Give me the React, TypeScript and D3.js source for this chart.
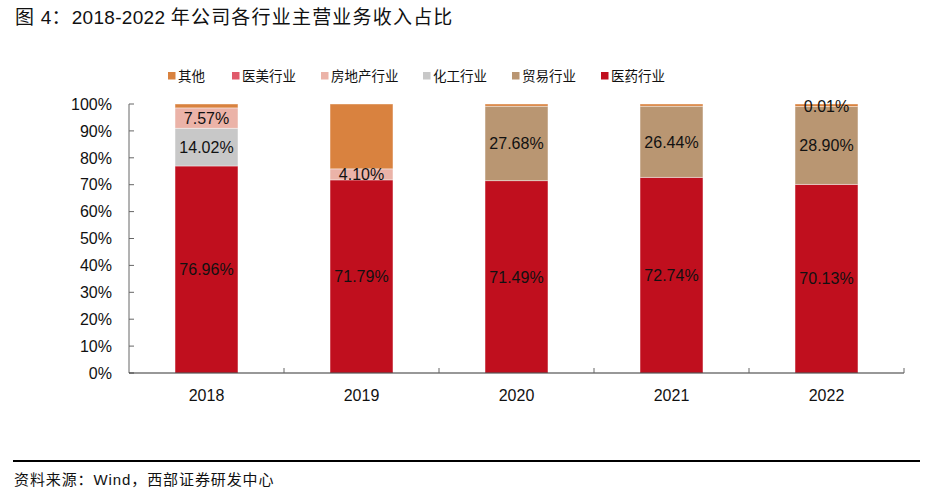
import React from "react";
import * as d3 from "d3";

const years = ["2018", "2019", "2020", "2021", "2022"];
const seriesNames = ["医药行业", "贸易行业", "化工行业", "房地产行业", "医美行业", "其他"];
const seriesColors = ["#C00F1E", "#B99672", "#C8C8C8", "#EBB3A8", "#E05A6B", "#D9823F"];
const pharma = [76.96, 71.79, 71.49, 72.74, 70.13];
const trade = [0, 0, 27.68, 26.44, 28.9];
const chem = [14.02, 0, 0, 0, 0];
const realEstate = [7.57, 4.1, 0, 0, 0];
const aesthetics = [0, 0, 0, 0, 0.01];
const other = [1.45, 24.11, 0.83, 0.82, 0.96];
const labelShown = [
  [true, true, true, true, true],
  [false, false, true, true, true],
  [true, false, false, false, false],
  [true, true, false, false, false],
  [false, false, false, false, true],
  [false, false, false, false, false],
];
const legendOrder = ["其他", "医美行业", "房地产行业", "化工行业", "贸易行业", "医药行业"];
const legendX = [168, 232, 321, 423, 512, 601];
const yTicks = [0, 10, 20, 30, 40, 50, 60, 70, 80, 90, 100];

export default function App() {
  const W = 933, H = 498;
  const left = 129, right = 904, top = 104, bottom = 373;
  const x = d3.scaleBand<string>().domain(years).range([left, right]).paddingInner(0.594).paddingOuter(0.297);
  const y = d3.scaleLinear().domain([0, 100]).range([bottom, top]);
  const allSeries = [pharma, trade, chem, realEstate, aesthetics, other];
  const table = years.map((yr, i) => {
    const row: any = { year: yr };
    seriesNames.forEach((n, k) => (row[n] = allSeries[k][i]));
    return row;
  });
  const stacked = d3.stack().keys(seriesNames)(table);
  const font = "'Liberation Sans', Arial, sans-serif";
  const cjk = "'Noto Sans CJK SC', 'Noto Sans', sans-serif";

  return (
    <svg width={W} height={H} style={{ position: "absolute", left: 0, top: 0, background: "#fff" }}>
      <rect x={0} y={0} width={W} height={H} fill="#fff" />
      <text x={15} y={24} fontSize={19} fontFamily={cjk} fill="#111" letterSpacing={1.2}>
        图 <tspan fontFamily={font} letterSpacing={0.3}>4</tspan>：<tspan fontFamily={font} letterSpacing={0.3}>2018-2022</tspan> 年公司各行业主营业务收入占比
      </text>
      {/* legend */}
      {legendOrder.map((n, i) => {
        const k = seriesNames.indexOf(n);
        return (
          <g key={n}>
            <rect x={legendX[i]} y={72} width={7.5} height={7.5} fill={seriesColors[k]} />
            <text x={legendX[i] + 10} y={81} fontSize={13.5} fontFamily={cjk} letterSpacing={0} fill="#111">{n}</text>
          </g>
        );
      })}
      {/* bars */}
      {stacked.map((s, k) => (
        <g key={s.key}>
          {s.map((d, i) => {
            const h = y(d[0]) - y(d[1]);
            if (h <= 0) return null;
            return (
              <rect key={i} x={x(years[i])} y={y(d[1])} width={x.bandwidth()} height={h}
                fill={seriesColors[k]} stroke="#fff" strokeOpacity={0.5} strokeWidth={0.8} />
            );
          })}
        </g>
      ))}
      {/* labels */}
      {stacked.map((s, k) => (
        <g key={"l" + s.key}>
          {s.map((d, i) => {
            if (!labelShown[k][i]) return null;
            const v = allSeries[k][i];
            const cy = (y(d[0]) + y(d[1])) / 2;
            return (
              <text key={i} x={(x(years[i]) as number) + x.bandwidth() / 2} y={cy} dy="0.36em"
                textAnchor="middle" fontSize={16} fontFamily={font} fill="#111">
                {v.toFixed(2)}%
              </text>
            );
          })}
        </g>
      ))}
      {/* axes */}
      <line x1={left} x2={left} y1={top} y2={bottom} stroke="#666" strokeWidth={1} />
      {yTicks.map((t) => (
        <g key={t}>
          <line x1={left} x2={left + 5} y1={y(t)} y2={y(t)} stroke="#666" />
          <text x={112} y={y(t)} dy="0.36em" textAnchor="end" fontSize={16} fontFamily={font} fill="#111">{t}%</text>
        </g>
      ))}
      <line x1={left} x2={right} y1={bottom} y2={bottom} stroke="#333" strokeWidth={1.2} />
      {years.map((yr, i) => {
        const x0 = left + (i + 1) * (right - left) / years.length;
        return <line key={yr} x1={x0} x2={x0} y1={bottom} y2={bottom - 5} stroke="#666" />;
      })}
      {years.map((yr) => (
        <text key={yr} x={(x(yr) as number) + x.bandwidth() / 2} y={401} textAnchor="middle" fontSize={16} fontFamily={font} fill="#111">{yr}</text>
      ))}
      {/* footer */}
      <line x1={13} x2={920} y1={461} y2={461} stroke="#000" strokeWidth={2.2} />
      <text x={14} y={485} fontSize={15} fontFamily={cjk} fill="#111" letterSpacing={0.9}>
        资料来源：<tspan fontFamily={font}>Wind</tspan>，西部证券研发中心
      </text>
    </svg>
  );
}
